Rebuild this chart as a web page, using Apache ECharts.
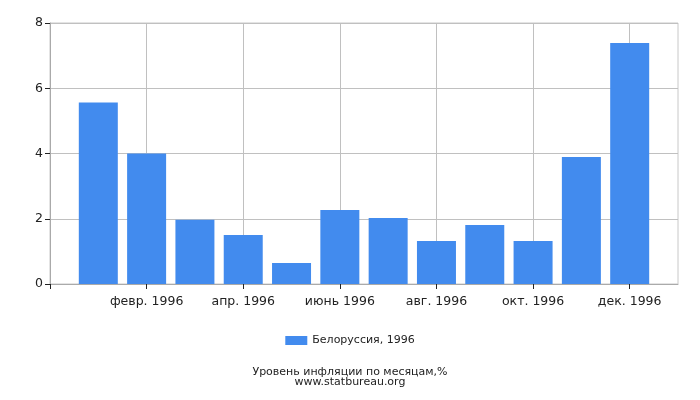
<!DOCTYPE html>
<html><head><meta charset="utf-8">
<script src="https://cdn.jsdelivr.net/npm/echarts@6/dist/echarts.min.js"></script>
<style>html,body{margin:0;padding:0;background:#fff}#c{width:700px;height:400px}</style>
</head><body><div id="c"></div>
<script>
var months = ['янв. 1996','февр. 1996','март 1996','апр. 1996','май 1996','июнь 1996','июль 1996','авг. 1996','сент. 1996','окт. 1996','нояб. 1996','дек. 1996'];
var monthIndex = [1,2,3,4,5,6,7,8,9,10,11,12];
var values = [5.56,4.0,1.97,1.5,0.64,2.27,2.02,1.32,1.81,1.32,3.89,7.39];
var yTicks = [0,2,4,6,8];
var seriesName = 'Белоруссия, 1996';
var titleText = 'Уровень инфляции по месяцам,%\nwww.statbureau.org';

var data = monthIndex.map(function(m,i){return [m, values[i]];});
var chart = echarts.init(document.getElementById('c'));
var font = 'DejaVu Sans';
chart.setOption({
  animation:false,
  textStyle:{fontFamily:font},
  title:{text:titleText,left:'center',top:362,textStyle:{fontFamily:font,fontSize:11,fontWeight:'normal',color:'#222',lineHeight:10}},
  legend:{data:[seriesName],top:330,left:'center',itemWidth:22,itemHeight:9,itemGap:5,icon:'rect',textStyle:{fontFamily:font,fontSize:11,color:'#222'}},
  grid:{left:50,right:22,top:23,bottom:116,show:true,borderColor:'#c8c8c8',borderWidth:1},
  xAxis:{type:'value',min:0,max:13,interval:1,
    axisLine:{show:true,lineStyle:{color:'#aaa'}},
    axisTick:{show:true,length:5,lineStyle:{color:'#222'},customValues:[0,2,4,6,8,10,12]},
    axisLabel:{color:'#222',fontSize:12.5,fontFamily:font,margin:11,customValues:[2,4,6,8,10,12],formatter:function(v){return months[v-1]||'';}},
    splitLine:{show:true,lineStyle:{color:'#c0c0c0'}}
  },
  yAxis:{type:'value',min:yTicks[0],max:yTicks[yTicks.length-1],interval:2,
    axisLine:{show:true,lineStyle:{color:'#aaa'}},
    axisTick:{show:true,length:5,lineStyle:{color:'#222'}},
    axisLabel:{color:'#222',fontSize:12.5,fontFamily:font,margin:7},
    splitLine:{show:true,lineStyle:{color:'#c0c0c0'}}
  },
  series:[{name:seriesName,type:'bar',data:data,barWidth:39,itemStyle:{color:'#428bee'}}]
});
</script></body></html>
